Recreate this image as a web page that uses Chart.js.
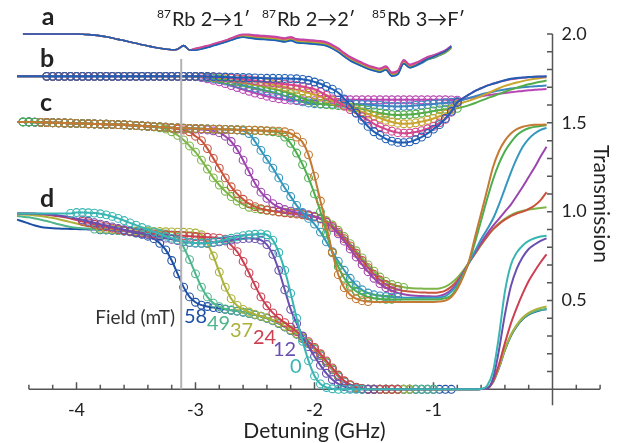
<!DOCTYPE html>
<html>
<head>
<meta charset="utf-8">
<script src="https://cdn.jsdelivr.net/npm/chart.js@4"></script>
<style>
  body { margin: 0; background: #fff; }
  canvas { display: block; }
</style>
</head>
<body>
<canvas id="chart" width="624" height="443"></canvas>
<script>
// detuning grid (GHz) shared by every trace
const detuning = [
  -4.5,-4.45,-4.4,-4.35,-4.3,-4.25,-4.2,-4.15,-4.1,-4.05,
  -4,-3.95,-3.9,-3.85,-3.8,-3.75,-3.7,-3.65,-3.6,-3.55,
  -3.5,-3.45,-3.4,-3.35,-3.3,-3.25,-3.2,-3.15,-3.1,-3.05,
  -3,-2.95,-2.9,-2.85,-2.8,-2.75,-2.7,-2.65,-2.6,-2.55,
  -2.5,-2.45,-2.4,-2.35,-2.3,-2.25,-2.2,-2.15,-2.1,-2.05,
  -2,-1.95,-1.9,-1.85,-1.8,-1.75,-1.7,-1.65,-1.6,-1.55,
  -1.5,-1.45,-1.4,-1.35,-1.3,-1.25,-1.2,-1.15,-1.1,-1.05,
  -1,-0.95,-0.9,-0.85,-0.8,-0.75,-0.7,-0.65,-0.6,-0.55,
  -0.5,-0.45,-0.4,-0.35,-0.3,-0.25,-0.2,-0.15,-0.1,-0.05
];

// panel a : reference cell (offset 1.0)
const aMagenta = [
  null,2,2,2,2,2,2,2,2,2,
  2,1.999,1.997,1.994,1.99,1.985,1.978,1.97,1.963,1.955,
  1.948,1.94,1.933,1.926,1.92,1.915,1.912,1.915,1.935,1.91,
  1.92,1.927,1.935,1.945,1.955,1.965,1.978,1.991,1.999,1.998,
  1.995,1.992,1.99,1.987,1.983,1.978,1.985,1.973,1.97,1.968,
  1.965,1.962,1.955,1.94,1.92,1.895,1.872,1.855,1.84,1.825,
  1.815,1.807,1.82,1.785,1.795,1.855,1.83,1.84,1.855,1.872,
  1.882,1.895,1.91,1.935,null,null,null,null,null,null,
  null,null,null,null,null,null,null,null,null,null
];
const aPink = [
  null,2,2,2,2,2,2,2,2,2,
  2,1.999,1.997,1.994,1.99,1.985,1.978,1.97,1.963,1.955,
  1.948,1.94,1.933,1.926,1.92,1.915,1.912,1.915,1.935,1.91,
  1.917,1.924,1.932,1.942,1.952,1.962,1.975,1.988,1.996,1.995,
  1.99,1.987,1.985,1.982,1.978,1.973,1.98,1.968,1.965,1.963,
  1.96,1.957,1.95,1.935,1.915,1.89,1.867,1.85,1.835,1.82,
  1.81,1.802,1.815,1.78,1.79,1.85,1.825,1.835,1.85,1.867,
  1.877,1.89,1.905,1.93,null,null,null,null,null,null,
  null,null,null,null,null,null,null,null,null,null
];
const aOlive = [
  null,2,2,2,2,2,2,2,2,2,
  2,1.999,1.997,1.994,1.99,1.985,1.978,1.97,1.963,1.955,
  1.948,1.94,1.933,1.926,1.92,1.915,1.912,1.915,1.935,1.91,
  1.915,1.922,1.93,1.94,1.95,1.96,1.972,1.985,1.992,1.99,
  1.985,1.982,1.98,1.977,1.973,1.968,1.975,1.963,1.96,1.958,
  1.955,1.952,1.945,1.93,1.91,1.885,1.862,1.845,1.83,1.815,
  1.805,1.797,1.81,1.775,1.785,1.845,1.82,1.83,1.845,1.862,
  1.872,1.885,1.9,1.925,null,null,null,null,null,null,
  null,null,null,null,null,null,null,null,null,null
];
const aGreen = [
  null,2,2,2,2,2,2,2,2,2,
  2,1.999,1.997,1.994,1.99,1.985,1.978,1.97,1.963,1.955,
  1.948,1.94,1.933,1.926,1.92,1.915,1.912,1.915,1.935,1.91,
  1.912,1.919,1.927,1.937,1.947,1.957,1.969,1.982,1.988,1.985,
  1.98,1.977,1.975,1.972,1.968,1.963,1.97,1.958,1.955,1.953,
  1.95,1.947,1.94,1.925,1.905,1.88,1.857,1.84,1.825,1.81,
  1.8,1.792,1.805,1.77,1.78,1.84,1.815,1.825,1.84,1.857,
  1.867,1.88,1.895,1.92,null,null,null,null,null,null,
  null,null,null,null,null,null,null,null,null,null
];
const aSteel = [
  null,2,2,2,2,2,2,2,2,2,
  2,1.999,1.997,1.994,1.99,1.985,1.978,1.97,1.963,1.955,
  1.948,1.94,1.933,1.926,1.92,1.915,1.912,1.915,1.935,1.91,
  1.91,1.917,1.925,1.935,1.945,1.955,1.966,1.978,1.984,1.98,
  1.975,1.972,1.97,1.967,1.963,1.958,1.965,1.953,1.95,1.948,
  1.945,1.942,1.935,1.92,1.9,1.875,1.852,1.835,1.82,1.805,
  1.795,1.787,1.8,1.765,1.775,1.835,1.81,1.82,1.835,1.855,
  1.865,1.88,1.897,1.925,null,null,null,null,null,null,
  null,null,null,null,null,null,null,null,null,null
];
const aBlue = [
  null,2,2,2,2,2,2,2,2,2,
  2,1.999,1.997,1.994,1.99,1.985,1.978,1.97,1.963,1.955,
  1.948,1.94,1.933,1.926,1.92,1.915,1.912,1.915,1.935,1.91,
  1.909,1.916,1.924,1.934,1.944,1.954,1.965,1.977,1.982,1.978,
  1.973,1.97,1.968,1.965,1.961,1.956,1.963,1.951,1.948,1.946,
  1.943,1.94,1.933,1.918,1.898,1.873,1.85,1.833,1.818,1.803,
  1.793,1.785,1.798,1.763,1.773,1.833,1.81,1.822,1.84,1.86,
  1.872,1.887,1.903,1.93,null,null,null,null,null,null,
  null,null,null,null,null,null,null,null,null,null
];

// panel b
const bBlue = [
  1.762,1.762,1.762,1.762,1.762,1.762,1.762,1.762,1.762,1.762,
  1.762,1.762,1.762,1.762,1.762,1.762,1.762,1.762,1.762,1.762,
  1.762,1.762,1.762,1.762,1.762,1.762,1.762,1.762,1.762,1.762,
  1.762,1.762,1.761,1.76,1.759,1.758,1.757,1.756,1.755,1.754,
  1.753,1.752,1.751,1.751,1.75,1.75,1.749,1.748,1.745,1.74,
  1.73,1.72,1.705,1.69,1.67,1.635,1.6,1.555,1.515,1.48,
  1.45,1.43,1.41,1.397,1.39,1.389,1.393,1.405,1.42,1.44,
  1.465,1.49,1.525,1.565,1.615,1.64,1.66,1.68,1.695,1.71,
  1.72,1.73,1.74,1.748,1.752,1.756,1.758,1.76,1.761,1.762
];
const bPink = [
  1.762,1.762,1.762,1.762,1.762,1.762,1.762,1.762,1.762,1.762,
  1.762,1.762,1.762,1.762,1.762,1.762,1.762,1.762,1.762,1.762,
  1.762,1.762,1.762,1.762,1.762,1.762,1.762,1.762,1.762,1.762,
  1.762,1.761,1.76,1.759,1.757,1.755,1.752,1.749,1.746,1.742,
  1.738,1.734,1.73,1.726,1.722,1.718,1.714,1.71,1.705,1.698,
  1.69,1.675,1.655,1.635,1.615,1.595,1.575,1.555,1.535,1.515,
  1.495,1.478,1.465,1.453,1.445,1.442,1.443,1.448,1.456,1.467,
  1.48,1.5,1.52,1.56,1.615,1.64,1.66,1.68,1.695,1.71,
  1.72,1.73,1.738,1.745,1.75,1.754,1.757,1.759,1.76,1.761
];
const bOlive = [
  1.762,1.762,1.762,1.762,1.762,1.762,1.762,1.762,1.762,1.762,
  1.762,1.762,1.762,1.762,1.762,1.762,1.762,1.762,1.762,1.762,
  1.762,1.762,1.762,1.762,1.762,1.762,1.762,1.762,1.762,1.762,
  1.762,1.761,1.76,1.758,1.756,1.753,1.75,1.746,1.742,1.738,
  1.733,1.728,1.722,1.716,1.71,1.702,1.694,1.686,1.677,1.668,
  1.658,1.647,1.636,1.625,1.612,1.6,1.587,1.574,1.562,1.55,
  1.538,1.527,1.515,1.505,1.498,1.495,1.496,1.5,1.507,1.515,
  1.525,1.537,1.55,1.575,1.605,1.615,1.625,1.637,1.65,1.665,
  1.68,1.695,1.708,1.718,1.727,1.735,1.742,1.748,1.753,1.757
];
const bGreen = [
  1.762,1.762,1.762,1.762,1.762,1.762,1.762,1.762,1.762,1.762,
  1.762,1.762,1.762,1.762,1.762,1.762,1.762,1.762,1.762,1.762,
  1.762,1.762,1.762,1.762,1.762,1.762,1.762,1.762,1.762,1.762,
  1.762,1.76,1.757,1.753,1.748,1.743,1.737,1.731,1.725,1.719,
  1.713,1.706,1.699,1.692,1.684,1.675,1.665,1.652,1.638,1.625,
  1.615,1.608,1.603,1.6,1.597,1.594,1.59,1.585,1.578,1.57,
  1.562,1.555,1.55,1.546,1.544,1.545,1.547,1.55,1.555,1.56,
  1.567,1.573,1.577,1.58,1.582,1.59,1.6,1.612,1.625,1.638,
  1.65,1.662,1.675,1.687,1.698,1.708,1.717,1.725,1.732,1.738
];
const bSteel = [
  1.762,1.762,1.762,1.762,1.762,1.762,1.762,1.762,1.762,1.762,
  1.762,1.762,1.762,1.762,1.762,1.762,1.762,1.762,1.762,1.762,
  1.762,1.762,1.762,1.762,1.762,1.762,1.762,1.762,1.762,1.762,
  1.761,1.758,1.754,1.749,1.743,1.736,1.728,1.72,1.712,1.704,
  1.696,1.688,1.68,1.672,1.663,1.652,1.64,1.628,1.618,1.612,
  1.608,1.606,1.605,1.605,1.605,1.605,1.605,1.604,1.603,1.602,
  1.6,1.598,1.595,1.593,1.592,1.593,1.595,1.598,1.6,1.603,
  1.606,1.61,1.613,1.616,1.62,1.63,1.64,1.65,1.66,1.668,
  1.675,1.682,1.688,1.693,1.697,1.7,1.703,1.706,1.708,1.71
];
const bMagenta = [
  1.762,1.762,1.762,1.762,1.762,1.762,1.762,1.762,1.762,1.762,
  1.762,1.762,1.762,1.762,1.762,1.762,1.762,1.762,1.762,1.762,
  1.762,1.762,1.762,1.762,1.762,1.762,1.762,1.762,1.762,1.762,
  1.76,1.755,1.748,1.74,1.731,1.721,1.71,1.699,1.688,1.678,
  1.668,1.659,1.65,1.642,1.636,1.631,1.628,1.626,1.625,1.625,
  1.625,1.626,1.627,1.628,1.629,1.63,1.63,1.63,1.63,1.63,
  1.63,1.63,1.63,1.63,1.63,1.63,1.63,1.63,1.63,1.63,
  1.63,1.63,1.63,1.629,1.628,1.633,1.64,1.645,1.65,1.655,
  1.66,1.664,1.668,1.672,1.676,1.68,1.683,1.686,1.688,1.69
];

// panel c
const cOrange = [
  1.505,1.505,1.505,1.504,1.503,1.502,1.501,1.5,1.499,1.498,
  1.497,1.496,1.495,1.494,1.493,1.492,1.491,1.49,1.489,1.487,
  1.485,1.483,1.481,1.479,1.477,1.475,1.473,1.471,1.47,1.469,
  1.468,1.467,1.466,1.465,1.464,1.463,1.462,1.461,1.46,1.459,
  1.458,1.457,1.456,1.455,1.453,1.45,1.44,1.42,1.39,1.32,
  1.2,1.06,0.92,0.77,0.645,0.572,0.532,0.51,0.499,0.494,
  0.492,0.492,0.492,0.492,0.492,0.492,0.492,0.492,0.492,0.492,
  0.492,0.494,0.5,0.52,0.565,0.635,0.725,0.86,0.99,1.12,
  1.25,1.34,1.4,1.44,1.465,1.478,1.485,1.489,1.49,1.491
];
const cGreen = [
  1.505,1.505,1.505,1.504,1.503,1.502,1.501,1.5,1.499,1.498,
  1.497,1.496,1.495,1.494,1.493,1.492,1.491,1.49,1.489,1.487,
  1.485,1.483,1.481,1.479,1.477,1.475,1.473,1.471,1.47,1.469,
  1.468,1.467,1.466,1.465,1.464,1.463,1.462,1.461,1.46,1.459,
  1.458,1.456,1.453,1.45,1.445,1.42,1.385,1.33,1.265,1.19,
  1.1,1,0.88,0.77,0.69,0.625,0.58,0.552,0.533,0.52,
  0.513,0.509,0.507,0.506,0.505,0.505,0.505,0.505,0.505,0.505,
  0.505,0.507,0.513,0.53,0.575,0.64,0.72,0.83,0.95,1.07,
  1.18,1.27,1.34,1.39,1.43,1.455,1.47,1.478,1.483,1.486
];
const cCyan = [
  1.505,1.505,1.505,1.504,1.503,1.502,1.501,1.5,1.499,1.498,
  1.497,1.496,1.495,1.494,1.493,1.492,1.491,1.49,1.489,1.487,
  1.485,1.483,1.481,1.479,1.477,1.475,1.473,1.471,1.47,1.469,
  1.468,1.467,1.466,1.465,1.464,1.463,1.462,1.46,1.455,1.44,
  1.395,1.345,1.295,1.245,1.19,1.135,1.085,1.035,0.995,0.962,
  0.93,0.885,0.83,0.775,0.72,0.67,0.625,0.588,0.56,0.542,
  0.532,0.526,0.522,0.519,0.517,0.516,0.515,0.515,0.515,0.515,
  0.515,0.517,0.525,0.55,0.59,0.65,0.715,0.78,0.845,0.9,
  0.96,1.04,1.13,1.22,1.3,1.365,1.41,1.44,1.46,1.472
];
const cPurple = [
  1.505,1.505,1.505,1.504,1.503,1.502,1.501,1.5,1.499,1.498,
  1.497,1.496,1.495,1.494,1.493,1.492,1.491,1.49,1.489,1.487,
  1.485,1.483,1.481,1.479,1.477,1.475,1.473,1.471,1.469,1.467,
  1.465,1.463,1.46,1.455,1.445,1.425,1.395,1.35,1.29,1.225,
  1.16,1.11,1.075,1.045,1.025,1.012,1.003,0.996,0.99,0.983,
  0.973,0.96,0.94,0.91,0.875,0.834,0.79,0.745,0.702,0.662,
  0.625,0.595,0.572,0.555,0.543,0.535,0.53,0.527,0.525,0.524,
  0.523,0.526,0.537,0.56,0.6,0.655,0.715,0.77,0.825,0.875,
  0.92,0.96,1,1.04,1.09,1.14,1.195,1.25,1.31,1.365
];
const cRed = [
  1.505,1.505,1.505,1.504,1.503,1.502,1.501,1.5,1.499,1.498,
  1.497,1.496,1.495,1.494,1.493,1.492,1.491,1.49,1.489,1.487,
  1.485,1.483,1.481,1.479,1.477,1.474,1.47,1.465,1.46,1.45,
  1.425,1.4,1.355,1.3,1.245,1.19,1.14,1.1,1.07,1.045,
  1.028,1.017,1.009,1.003,0.998,0.994,0.99,0.986,0.982,0.977,
  0.97,0.96,0.943,0.917,0.885,0.848,0.807,0.766,0.725,0.685,
  0.648,0.615,0.59,0.572,0.561,0.554,0.55,0.547,0.545,0.544,
  0.543,0.546,0.556,0.578,0.612,0.66,0.715,0.765,0.815,0.86,
  0.9,0.93,0.955,0.975,0.99,1,1.015,1.035,1.065,1.11
];
const cLime = [
  1.505,1.505,1.505,1.504,1.503,1.502,1.501,1.5,1.499,1.498,
  1.497,1.496,1.495,1.494,1.493,1.492,1.491,1.49,1.489,1.487,
  1.485,1.483,1.48,1.477,1.472,1.465,1.45,1.43,1.404,1.37,
  1.335,1.29,1.24,1.19,1.15,1.115,1.085,1.06,1.04,1.025,
  1.017,1.012,1.008,1.004,1,0.997,0.994,0.99,0.985,0.98,
  0.975,0.965,0.95,0.925,0.895,0.86,0.82,0.78,0.74,0.7,
  0.665,0.632,0.607,0.59,0.58,0.574,0.57,0.568,0.567,0.566,
  0.566,0.568,0.578,0.598,0.628,0.668,0.715,0.763,0.812,0.86,
  0.9,0.935,0.96,0.98,0.995,1.005,1.012,1.017,1.021,1.025
];

// panel d : field series 0, 12, 24, 37, 49, 58 mT
const d0 = [
  0.99,0.99,0.99,0.99,0.99,0.99,0.99,0.99,0.99,0.99,
  0.995,0.995,0.994,0.992,0.988,0.982,0.973,0.962,0.95,0.937,
  0.924,0.911,0.898,0.886,0.874,0.862,0.851,0.841,0.833,0.827,
  0.823,0.822,0.824,0.828,0.834,0.842,0.85,0.858,0.865,0.87,
  0.873,0.875,0.87,0.84,0.77,0.67,0.54,0.4,0.27,0.16,
  0.075,0.03,0.01,0.003,0,0,0,0,0,0,
  0,0,0,0,0,0,0,0,0,0,
  0,0,0,0,0,0,0,0,0.002,0.02,
  0.1,0.3,0.55,0.7,0.77,0.81,0.835,0.85,0.86,0.865
];
const d12 = [
  0.99,0.99,0.99,0.989,0.988,0.986,0.983,0.979,0.974,0.968,
  0.961,0.954,0.946,0.938,0.93,0.922,0.914,0.906,0.898,0.891,
  0.884,0.877,0.871,0.865,0.858,0.851,0.844,0.837,0.831,0.826,
  0.823,0.822,0.823,0.826,0.83,0.835,0.84,0.845,0.848,0.85,
  0.848,0.84,0.815,0.76,0.67,0.56,0.45,0.37,0.3,0.24,
  0.185,0.135,0.09,0.055,0.03,0.015,0.006,0.002,0,0,
  0,0,0,0,0,0,0,0,0,0,
  0,0,0,0,0,0,0,0,0.001,0.004,
  0.06,0.22,0.42,0.58,0.68,0.745,0.79,0.815,0.835,0.85
];
const d24 = [
  0.99,0.99,0.989,0.988,0.986,0.983,0.979,0.974,0.968,0.961,
  0.953,0.945,0.937,0.929,0.921,0.914,0.907,0.9,0.894,0.889,
  0.885,0.881,0.878,0.875,0.872,0.87,0.868,0.866,0.864,0.862,
  0.86,0.858,0.856,0.854,0.851,0.845,0.81,0.775,0.72,0.655,
  0.585,0.52,0.47,0.43,0.4,0.375,0.35,0.325,0.298,0.268,
  0.236,0.2,0.16,0.12,0.08,0.048,0.026,0.012,0.004,0.001,
  0,0,0,0,0,0,0,0,0,0,
  0,0,0,0,0,0,0,0,0.001,0.003,
  0.045,0.14,0.26,0.37,0.46,0.54,0.61,0.665,0.715,0.76
];
const d37 = [
  0.985,0.984,0.982,0.979,0.975,0.97,0.964,0.957,0.949,0.941,
  0.933,0.925,0.918,0.912,0.907,0.903,0.9,0.898,0.896,0.894,
  0.892,0.891,0.89,0.889,0.888,0.887,0.886,0.885,0.884,0.883,
  0.88,0.87,0.82,0.75,0.66,0.575,0.51,0.472,0.45,0.435,
  0.422,0.412,0.402,0.389,0.374,0.355,0.335,0.314,0.29,0.261,
  0.23,0.194,0.154,0.114,0.076,0.045,0.024,0.01,0.003,0,
  0,0,0,0,0,0,0,0,0,0,
  0,0,0,0,0,0,0,0,0.001,0.006,
  0.043,0.125,0.226,0.307,0.363,0.404,0.43,0.447,0.458,0.466
];
const d49 = [
  0.975,0.972,0.968,0.962,0.955,0.947,0.938,0.929,0.921,0.914,
  0.909,0.906,0.904,0.902,0.9,0.898,0.896,0.894,0.892,0.89,
  0.888,0.886,0.884,0.882,0.879,0.875,0.868,0.855,0.8,0.73,
  0.65,0.575,0.52,0.485,0.465,0.452,0.446,0.44,0.434,0.427,
  0.42,0.411,0.401,0.388,0.372,0.353,0.333,0.312,0.288,0.259,
  0.228,0.192,0.152,0.112,0.074,0.044,0.023,0.01,0.003,0,
  0,0,0,0,0,0,0,0,0,0,
  0,0,0,0,0,0,0,0,0.001,0.006,
  0.042,0.123,0.223,0.303,0.358,0.398,0.423,0.438,0.447,0.453
];
const d58 = [
  0.955,0.945,0.933,0.922,0.914,0.909,0.906,0.905,0.904,0.903,
  0.902,0.901,0.9,0.899,0.898,0.897,0.895,0.893,0.89,0.887,
  0.88,0.872,0.862,0.848,0.822,0.785,0.725,0.65,0.575,0.52,
  0.49,0.474,0.466,0.46,0.455,0.45,0.445,0.44,0.434,0.427,
  0.419,0.41,0.4,0.386,0.37,0.351,0.331,0.31,0.286,0.257,
  0.226,0.19,0.15,0.11,0.072,0.042,0.022,0.009,0.003,0,
  0,0,0,0,0,0,0,0,0,0,
  0,0,0,0,0,0,0,0,0.001,0.006,
  0.04,0.12,0.22,0.3,0.355,0.395,0.42,0.435,0.445,0.45
];

// measured range (GHz) where data circles are shown
const bCircleFrom = [-4.25, -4.25, -4.25, -4.25, -4.25, -4.25];
const bCircleTo   = [-0.8, -0.8, -0.8, -0.8, -0.8, -0.8];
const cCircleFrom = [-4.3, -4.45, -4.45, -4.4, -4.4, -4.45];
const cCircleTo   = [-1.55, -1.35, -1.3, -1.3, -1.3, -1.25];
const dCircleFrom = [-4.05, -3.95, -3.95, -3.8, -3.85, -3.8];
const dCircleTo   = [-1.6, -1.5, -1.3, -1.2, -1.0, -0.85];

const fieldLabels = ['58', '49', '37', '24', '12', '0'];
const xTickLabels = [-4, -3, -2, -1];
const yTickLabels = [0.5, 1.0, 1.5, 2.0];
const markerX = [-3.12, -3.12];
const markerY = [0, 1.86];

const abColors = ['#1f5fb5', '#d3458e', '#c9a42e', '#54ad49', '#3b86c3', '#b944b4'];
const cColors = ['#c47a34', '#4dae4f', '#3597be', '#9c45ae', '#c9533c', '#7db648'];
const dColors = ['#39b6b3', '#6a50ae', '#cc4052', '#aab23b', '#4fb58c', '#1e50a6'];

function trace(values, color, from, to, width) {
  const pts = [];
  detuning.forEach((x, i) => {
    if (values[i] !== null) pts.push({ x: x, y: values[i] });
  });
  return {
    data: pts,
    borderColor: color,
    borderWidth: width,
    pointBorderColor: color,
    pointBackgroundColor: 'rgba(0,0,0,0)',
    pointBorderWidth: 1.1,
    pointRadius: ctx => (from !== null && ctx.raw && ctx.raw.x >= from - 1e-6 && ctx.raw.x <= to + 1e-6) ? 3.9 : 0,
    pointHoverRadius: 0,
    cubicInterpolationMode: 'monotone',
    fill: false
  };
}

const datasets = [];
datasets.push({
  data: markerX.map((x, i) => ({ x: x, y: markerY[i] })),
  borderColor: '#b3b3b3', borderWidth: 2, pointRadius: 0, fill: false
});
[aBlue, aPink, aOlive, aGreen, aSteel, aMagenta].forEach((v, i) => datasets.push(trace(v, abColors[i], null, null, 1.6)));
[bBlue, bPink, bOlive, bGreen, bSteel, bMagenta].forEach((v, i) => datasets.push(trace(v, abColors[i], bCircleFrom[i], bCircleTo[i], 2)));
[cOrange, cGreen, cCyan, cPurple, cRed, cLime].forEach((v, i) => datasets.push(trace(v, cColors[i], cCircleFrom[i], cCircleTo[i], 2)));
[d0, d12, d24, d37, d49, d58].forEach((v, i) => datasets.push(trace(v, dColors[i], dCircleFrom[i], dCircleTo[i], 2)));

const FONT = 'Lato, "Open Sans", sans-serif';

const axesPlugin = {
  id: 'axes',
  beforeDatasetsDraw(chart) {
    const c = chart.ctx, xs = chart.scales.x, ys = chart.scales.y;
    const y0 = ys.getPixelForValue(0), x0 = xs.getPixelForValue(0);
    c.save();
    c.strokeStyle = '#555';
    c.lineWidth = 1.5;
    c.beginPath();
    c.moveTo(xs.getPixelForValue(-4.4), y0);
    c.lineTo(xs.getPixelForValue(0.4), y0);
    c.moveTo(x0, ys.getPixelForValue(2.0));
    c.lineTo(x0, ys.getPixelForValue(-0.09));
    for (let k = 0; k <= 24; k++) {
      const v = -4.4 + 0.2 * k;
      const px = xs.getPixelForValue(v);
      const major = Math.abs(v - Math.round(v)) < 1e-6;
      c.moveTo(px, y0);
      c.lineTo(px, y0 - (major ? 7 : 4.5));
    }
    for (let k = 1; k <= 20; k++) {
      const py = ys.getPixelForValue(k / 10);
      c.moveTo(x0, py);
      c.lineTo(x0 - 5.5, py);
    }
    c.stroke();
    c.restore();
  },
  afterDraw(chart) {
    const c = chart.ctx, xs = chart.scales.x, ys = chart.scales.y;
    const y0 = ys.getPixelForValue(0), x0 = xs.getPixelForValue(0);
    c.save();
    c.fillStyle = '#222';
    c.font = '18px ' + FONT;
    c.textAlign = 'center';
    c.textBaseline = 'middle';
    xTickLabels.forEach(v => c.fillText(String(v), xs.getPixelForValue(v), y0 + 21));
    c.textAlign = 'left';
    yTickLabels.forEach(v => c.fillText(v.toFixed(1), x0 + 9, ys.getPixelForValue(v)));

    c.font = '21px ' + FONT;
    c.textAlign = 'center';
    c.fillText('Detuning (GHz)', xs.getPixelForValue(-2.0), 431);
    c.save();
    c.translate(601, 204);
    c.rotate(Math.PI / 2);
    c.fillText('Transmission', 0, 0);
    c.restore();

    // panel letters
    c.font = 'bold 25px ' + FONT;
    c.fillText('a', 48, 17);
    c.fillText('b', 47, 59);
    c.fillText('c', 46, 103);
    c.fillText('d', 47, 199);

    // transition labels
    const trans = [['87', 'Rb 2\u21921\u2032', 157], ['87', 'Rb 2\u21922\u2032', 262], ['85', 'Rb 3\u2192F\u2032', 372]];
    c.textAlign = 'left';
    c.textBaseline = 'alphabetic';
    trans.forEach(t => {
      c.font = '12px ' + FONT;
      c.fillText(t[0], t[2], 18);
      const w = c.measureText(t[0]).width;
      c.font = '20px ' + FONT;
      c.fillText(t[1], t[2] + w + 1, 26);
    });

    // field legend
    c.textBaseline = 'middle';
    c.font = '19px ' + FONT;
    c.fillStyle = '#333';
    c.textAlign = 'right';
    c.fillText('Field (mT)', 175, 318);
    const pos = [[184, 317], [207, 324], [230, 331], [253, 338], [273, 350], [290, 367]];
    const order = [5, 4, 3, 2, 1, 0];
    c.font = '20px ' + FONT;
    c.textAlign = 'left';
    fieldLabels.forEach((t, i) => {
      c.fillStyle = dColors[order[i]];
      c.fillText(t, pos[i][0], pos[i][1]);
    });
    c.restore();
  }
};

new Chart(document.getElementById('chart'), {
  type: 'line',
  data: { datasets: datasets },
  options: {
    responsive: false,
    animation: false,
    events: [],
    devicePixelRatio: 1,
    layout: { padding: { left: 5.1, right: 0.1, top: 16.3, bottom: 18.2 } },
    plugins: { legend: { display: false }, tooltip: { enabled: false } },
    scales: {
      x: { type: 'linear', min: -4.6, max: 0.6, display: false },
      y: { type: 'linear', min: -0.2, max: 2.1, display: false }
    }
  },
  plugins: [axesPlugin]
});
</script>
</body>
</html>
